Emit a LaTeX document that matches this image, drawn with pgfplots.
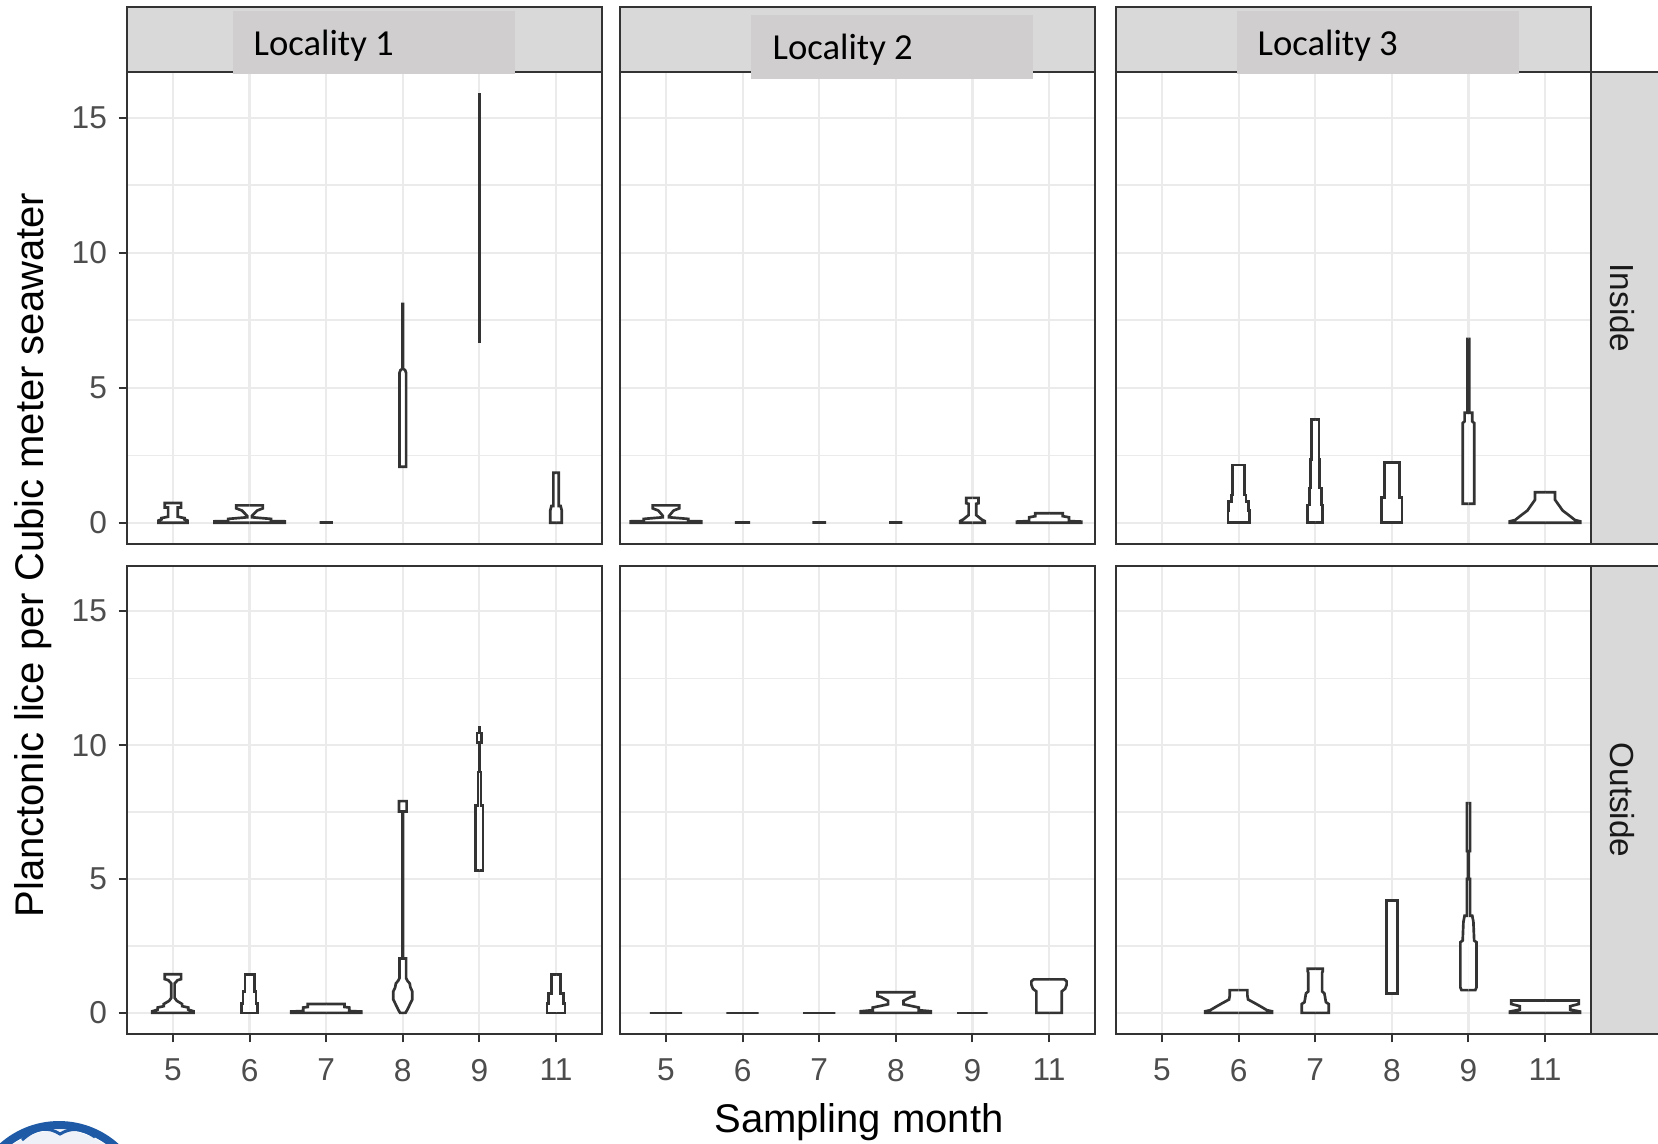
\documentclass[border=0pt]{standalone}
\usepackage{fontspec}
\setmainfont{Liberation Sans}
\newfontfamily\cali{Carlito}
\usepackage{pgfplots}
\pgfplotsset{compat=1.18}
\definecolor{gridc}{HTML}{EBEBEB}
\definecolor{c20}{HTML}{333333}
\definecolor{c30}{HTML}{4D4D4D}
\definecolor{stripc}{HTML}{D9D9D9}
\definecolor{locc}{HTML}{D0CECE}
\definecolor{logob}{HTML}{1F5AA6}
\definecolor{logol}{HTML}{EEF2F8}

\pgfplotsset{
  panel/.style={
    scale only axis, width=142.5pt, height=141.6pt,
    xmin=-0.6, xmax=5.6, ymin=-0.79, ymax=16.69,
    xtick={0,1,2,3,4,5}, ytick={0,5,10,15}, minor ytick={2.5,7.5,12.5},
    xtick pos=left, ytick pos=left,
    grid=both,
    major grid style={draw=gridc, line width=0.65pt},
    minor grid style={draw=gridc, line width=0.4pt},
    axis line style={draw=c20, line width=0.8pt},
    tick style={draw=c20, line width=0.6pt},
    major tick length=2.5pt, minor tick length=0pt,
    tick align=outside,
    xmajorticks=false, ymajorticks=false,
    xticklabels={5,6,7,8,9,11},
    ticklabel style={font=\fontsize{9.5}{10}\selectfont, text=c30},
    xticklabel style={yshift=-1.5pt},
    /pgf/number format/assume math mode=true,
    anchor=north west,
  },
  vio/.style={draw=c20, line width=0.8pt, fill=white, mark=none, forget plot},
}

\newcommand{\vio}[2]{%
  \addplot[vio] table[row sep=\\, x expr={#1+\thisrow{w}}, y=y] {w y\\ #2\\};
  \addplot[vio] table[row sep=\\, x expr={#1-\thisrow{w}}, y=y] {w y\\ #2\\};
}

\begin{document}
\begin{tikzpicture}
\useasboundingbox (0pt,0pt) rectangle (497.4pt,-342.9pt);

% ---------- Inside, Locality 1
\begin{axis}[panel, at={(38.1pt,-21.6pt)}, ymajorticks=true]
\vio{0}{0 0 \\ 0.19 0 \\ 0.19 0.08 \\ 0.15 0.12 \\ 0.15 0.17 \\ 0.063 0.22 \\ 0.063 0.56 \\ 0.107 0.56 \\ 0.107 0.73 \\ 0 0.73}
\vio{1}{0 0 \\ 0.46 0 \\ 0.46 0.05 \\ 0.28 0.06 \\ 0.28 0.14 \\ 0.03 0.2 \\ 0.03 0.25 \\ 0.1 0.45 \\ 0.174 0.53 \\ 0.174 0.64 \\ 0 0.64}
\vio{2}{0 0 \\ 0.087 0 \\ 0 0}
\vio{3}{0 2.07 \\ 0.043 2.07 \\ 0.043 5.55 \\ 0.03 5.65 \\ 0.004 5.7 \\ 0.004 8.1 \\ 0 8.1}
\vio{4}{0 6.72 \\ 0.005 6.72 \\ 0.005 15.87 \\ 0 15.87}
\vio{5}{0 0 \\ 0.075 0 \\ 0.075 0.45 \\ 0.06 0.62 \\ 0.035 0.62 \\ 0.035 1.85 \\ 0 1.85}
\end{axis}

% ---------- Inside, Locality 2
\begin{axis}[panel, at={(186pt,-21.6pt)}]
\vio{0}{0 0 \\ 0.46 0 \\ 0.46 0.05 \\ 0.29 0.06 \\ 0.29 0.14 \\ 0.04 0.2 \\ 0.04 0.25 \\ 0.1 0.45 \\ 0.174 0.53 \\ 0.174 0.64 \\ 0 0.64}
\vio{1}{0 0 \\ 0.1 0 \\ 0 0}
\vio{2}{0 0 \\ 0.09 0 \\ 0 0}
\vio{3}{0 0 \\ 0.087 0 \\ 0 0}
\vio{4}{0 0 \\ 0.16 0 \\ 0.16 0.06 \\ 0.12 0.12 \\ 0.05 0.28 \\ 0.05 0.7 \\ 0.08 0.72 \\ 0.08 0.92 \\ 0 0.92}
\vio{5}{0 0 \\ 0.42 0 \\ 0.42 0.04 \\ 0.26 0.06 \\ 0.26 0.2 \\ 0.18 0.24 \\ 0.18 0.35 \\ 0 0.35}
\end{axis}

% ---------- Inside, Locality 3
\begin{axis}[panel, at={(334.8pt,-21.6pt)}]
\vio{1}{0 0 \\ 0.14 0 \\ 0.14 0.44 \\ 0.13 0.44 \\ 0.13 0.79 \\ 0.095 0.79 \\ 0.095 1.02 \\ 0.076 1.02 \\ 0.076 2.13 \\ 0 2.13}
\vio{2}{0 0 \\ 0.098 0 \\ 0.098 0.65 \\ 0.078 0.65 \\ 0.078 1.28 \\ 0.058 1.28 \\ 0.058 2.34 \\ 0.048 2.34 \\ 0.048 3.83 \\ 0 3.83}
\vio{3}{0 0 \\ 0.135 0 \\ 0.135 0.94 \\ 0.096 0.94 \\ 0.096 2.23 \\ 0 2.23}
\vio{4}{0 0.7 \\ 0.075 0.7 \\ 0.075 3.69 \\ 0.05 3.75 \\ 0.05 4.07 \\ 0.012 4.07 \\ 0.012 6.8 \\ 0 6.8}
\vio{5}{0 0 \\ 0.46 0 \\ 0.46 0.05 \\ 0.39 0.1 \\ 0.3 0.3 \\ 0.23 0.45 \\ 0.18 0.65 \\ 0.13 0.85 \\ 0.13 1.13 \\ 0 1.13}
\end{axis}

% ---------- Outside, Locality 1
\begin{axis}[panel, height=140.4pt, at={(38.1pt,-169.8pt)}, ymajorticks=true, xmajorticks=true]
\vio{0}{0 0 \\ 0.27 0 \\ 0.27 0.06 \\ 0.2 0.12 \\ 0.2 0.2 \\ 0.12 0.25 \\ 0.12 0.33 \\ 0.05 0.45 \\ 0.022 0.56 \\ 0.022 1.1 \\ 0.06 1.22 \\ 0.107 1.26 \\ 0.107 1.44 \\ 0 1.44}
\vio{1}{0 0 \\ 0.105 0 \\ 0.105 0.36 \\ 0.085 0.36 \\ 0.085 0.79 \\ 0.06 0.79 \\ 0.06 1.44 \\ 0 1.44}
\vio{2}{0 0 \\ 0.457 0 \\ 0.457 0.05 \\ 0.3 0.07 \\ 0.3 0.2 \\ 0.24 0.22 \\ 0.24 0.33 \\ 0 0.33}
\vio{3}{0 0 \\ 0.035 0 \\ 0.06 0.12 \\ 0.09 0.3 \\ 0.124 0.5 \\ 0.124 0.8 \\ 0.1 0.95 \\ 0.09 1.1 \\ 0.06 1.2 \\ 0.043 1.3 \\ 0.043 2.03 \\ 0.004 2.03 \\ 0.004 7.52 \\ 0.05 7.52 \\ 0.05 7.91 \\ 0 7.91}
\vio{4}{0 5.32 \\ 0.048 5.32 \\ 0.048 7.74 \\ 0.02 7.74 \\ 0.02 9.0 \\ 0.006 9.0 \\ 0.006 10.1 \\ 0.03 10.1 \\ 0.03 10.45 \\ 0.006 10.45 \\ 0.006 10.67 \\ 0 10.67}
\vio{5}{0 0 \\ 0.117 0 \\ 0.117 0.36 \\ 0.1 0.36 \\ 0.1 0.73 \\ 0.057 0.73 \\ 0.057 1.44 \\ 0 1.44}
\end{axis}

% ---------- Outside, Locality 2
\begin{axis}[panel, height=140.4pt, at={(186pt,-169.8pt)}, xmajorticks=true]
\vio{0}{0 0 \\ 0.21 0 \\ 0 0}
\vio{1}{0 0 \\ 0.21 0 \\ 0 0}
\vio{2}{0 0 \\ 0.21 0 \\ 0 0}
\vio{3}{0 0 \\ 0.457 0 \\ 0.457 0.06 \\ 0.3 0.1 \\ 0.3 0.2 \\ 0.1 0.32 \\ 0.1 0.45 \\ 0.2 0.6 \\ 0.24 0.62 \\ 0.24 0.77 \\ 0 0.77}
\vio{4}{0 0 \\ 0.2 0 \\ 0 0}
\vio{5}{0 0 \\ 0.165 0 \\ 0.165 0.8 \\ 0.21 0.9 \\ 0.23 1.05 \\ 0.23 1.18 \\ 0.2 1.25 \\ 0 1.25}
\end{axis}

% ---------- Outside, Locality 3
\begin{axis}[panel, height=140.4pt, at={(334.8pt,-169.8pt)}, xmajorticks=true]
\vio{1}{0 0 \\ 0.435 0 \\ 0.435 0.06 \\ 0.37 0.1 \\ 0.3 0.22 \\ 0.22 0.35 \\ 0.124 0.5 \\ 0.115 0.65 \\ 0.115 0.85 \\ 0 0.85}
\vio{2}{0 0 \\ 0.176 0 \\ 0.176 0.33 \\ 0.14 0.4 \\ 0.12 0.73 \\ 0.09 0.8 \\ 0.09 1.5 \\ 0.098 1.55 \\ 0.098 1.65 \\ 0 1.65}
\vio{3}{0 0.73 \\ 0.07 0.73 \\ 0.07 4.19 \\ 0 4.19}
\vio{4}{0 0.85 \\ 0.09 0.85 \\ 0.105 0.95 \\ 0.105 2.64 \\ 0.075 2.7 \\ 0.065 3.4 \\ 0.05 3.63 \\ 0.02 3.63 \\ 0.02 5.0 \\ 0.006 5.0 \\ 0.006 6.04 \\ 0.02 6.04 \\ 0.02 7.83 \\ 0 7.83}
\vio{5}{0 0 \\ 0.457 0 \\ 0.457 0.05 \\ 0.33 0.12 \\ 0.33 0.25 \\ 0.44 0.33 \\ 0.44 0.46 \\ 0 0.46}
\end{axis}

\begin{scope}[x=0.3pt, y=-0.3pt]
  % top strips
  \foreach \l/\r in {127/602, 620/1095, 1116/1591}{
    \draw[fill=stripc, draw=c20, line width=0.8pt] (\l,7) rectangle (\r,72);
  }
  % right strips
  \draw[fill=stripc, draw=c20, line width=0.8pt] (1591,72) rectangle (1662,544);
  \draw[fill=stripc, draw=c20, line width=0.8pt] (1591,566) rectangle (1662,1034);
  \node[rotate=-90, text=black!90, font=\fontsize{10}{12}\selectfont] at (1622,308) {Inside};
  \node[rotate=-90, text=black!90, font=\fontsize{10}{12}\selectfont] at (1622,800) {Outside};
  % locality boxes
  \fill[locc] (233,11) rectangle (515,74);
  \fill[locc] (751,15) rectangle (1033,79);
  \fill[locc] (1237,11) rectangle (1519,74);
  \node[anchor=base west, inner sep=0pt, font=\cali\fontsize{11}{13}\selectfont] at (253,55) {Locality 1};
  \node[anchor=base west, inner sep=0pt, font=\cali\fontsize{11}{13}\selectfont] at (772,59) {Locality 2};
  \node[anchor=base west, inner sep=0pt, font=\cali\fontsize{11}{13}\selectfont] at (1257,55) {Locality 3};
  % axis titles
  \node[font=\fontsize{12}{14}\selectfont] at (859,1122) {Sampling month};
  \node[rotate=90, font=\fontsize{12}{14}\selectfont] at (33,555) {Planctonic lice per Cubic meter seawater};
  % logo fragment
  \begin{scope}
    \clip (0,0) rectangle (1658,1143);
    \fill[logol] (59,1210) circle[radius=24pt];
    \draw[logob, line width=2.4pt] (59,1210) circle[radius=25.5pt];
    \draw[logob, line width=0.9pt] (22,1140) .. controls (35,1128) and (48,1126) .. (60,1134)
      .. controls (70,1128) and (80,1127) .. (95,1137);
  \end{scope}
\end{scope}
\end{tikzpicture}
\end{document}
